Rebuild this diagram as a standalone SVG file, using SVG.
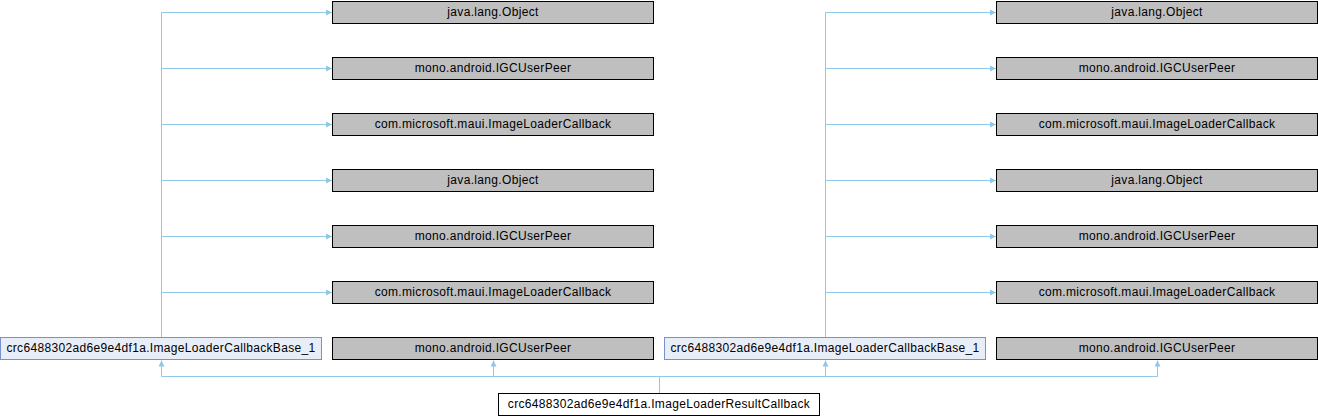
<svg xmlns="http://www.w3.org/2000/svg" width="1318" height="416" viewBox="0 0 1318 416">
<style>
.bg{fill:#ffffff}
.g rect{fill:#bfbfbf;stroke:#000000;stroke-width:1}
.b rect{fill:#e8eef8;stroke:#7b8fcb;stroke-width:1}
.w rect{fill:#ffffff;stroke:#000000;stroke-width:1}
text{font-family:"Liberation Sans",Arial,sans-serif;font-size:12px;letter-spacing:0.33px;fill:#000000;text-anchor:middle}
.e{fill:none;stroke:#8fc8e8;stroke-width:1}
</style>
<defs>
<marker id="ah" viewBox="0 0 8 8" refX="8" refY="4" markerWidth="7" markerHeight="6" markerUnits="userSpaceOnUse" orient="auto">
<path d="M0,0 L8,4 L0,8 z" fill="#8fc8e8"/>
</marker>
</defs>
<rect class="bg" x="0" y="0" width="1318" height="416"/>
<g id="connectors">
<path class="e" d="M161.5,337 V12.5"/>
<path class="e" d="M161.5,12.5 H332" marker-end="url(#ah)"/>
<path class="e" d="M161.5,68.5 H332" marker-end="url(#ah)"/>
<path class="e" d="M161.5,124.5 H332" marker-end="url(#ah)"/>
<path class="e" d="M161.5,180.5 H332" marker-end="url(#ah)"/>
<path class="e" d="M161.5,236.5 H332" marker-end="url(#ah)"/>
<path class="e" d="M161.5,292.5 H332" marker-end="url(#ah)"/>
<path class="e" d="M825.5,337 V12.5"/>
<path class="e" d="M825.5,12.5 H996" marker-end="url(#ah)"/>
<path class="e" d="M825.5,68.5 H996" marker-end="url(#ah)"/>
<path class="e" d="M825.5,124.5 H996" marker-end="url(#ah)"/>
<path class="e" d="M825.5,180.5 H996" marker-end="url(#ah)"/>
<path class="e" d="M825.5,236.5 H996" marker-end="url(#ah)"/>
<path class="e" d="M825.5,292.5 H996" marker-end="url(#ah)"/>
<path class="e" d="M659.5,393 V376.5"/>
<path class="e" d="M161.5,376.5 H1157.5"/>
<path class="e" d="M161.5,376.5 V360.5" marker-end="url(#ah)"/>
<path class="e" d="M493.5,376.5 V360.5" marker-end="url(#ah)"/>
<path class="e" d="M825.5,376.5 V360.5" marker-end="url(#ah)"/>
<path class="e" d="M1157.5,376.5 V360.5" marker-end="url(#ah)"/>
</g>
<g id="n_obj1" class="g"><rect x="332.5" y="1.5" width="321" height="22"/><text x="493" y="16">java.lang.Object</text></g>
<g id="n_peer1" class="g"><rect x="332.5" y="57.5" width="321" height="22"/><text x="493" y="72">mono.android.IGCUserPeer</text></g>
<g id="n_cb1" class="g"><rect x="332.5" y="113.5" width="321" height="22"/><text x="493" y="128">com.microsoft.maui.ImageLoaderCallback</text></g>
<g id="n_obj2" class="g"><rect x="332.5" y="169.5" width="321" height="22"/><text x="493" y="184">java.lang.Object</text></g>
<g id="n_peer2" class="g"><rect x="332.5" y="225.5" width="321" height="22"/><text x="493" y="240">mono.android.IGCUserPeer</text></g>
<g id="n_cb2" class="g"><rect x="332.5" y="281.5" width="321" height="22"/><text x="493" y="296">com.microsoft.maui.ImageLoaderCallback</text></g>
<g id="n_peer3" class="g"><rect x="332.5" y="337.5" width="321" height="22"/><text x="493" y="352">mono.android.IGCUserPeer</text></g>
<g id="n_base1" class="b"><rect x="0.5" y="337.5" width="321" height="22"/><text x="161" y="352">crc6488302ad6e9e4df1a.ImageLoaderCallbackBase_1</text></g>
<g id="n_obj3" class="g"><rect x="996.5" y="1.5" width="321" height="22"/><text x="1157" y="16">java.lang.Object</text></g>
<g id="n_peer4" class="g"><rect x="996.5" y="57.5" width="321" height="22"/><text x="1157" y="72">mono.android.IGCUserPeer</text></g>
<g id="n_cb3" class="g"><rect x="996.5" y="113.5" width="321" height="22"/><text x="1157" y="128">com.microsoft.maui.ImageLoaderCallback</text></g>
<g id="n_obj4" class="g"><rect x="996.5" y="169.5" width="321" height="22"/><text x="1157" y="184">java.lang.Object</text></g>
<g id="n_peer5" class="g"><rect x="996.5" y="225.5" width="321" height="22"/><text x="1157" y="240">mono.android.IGCUserPeer</text></g>
<g id="n_cb4" class="g"><rect x="996.5" y="281.5" width="321" height="22"/><text x="1157" y="296">com.microsoft.maui.ImageLoaderCallback</text></g>
<g id="n_peer6" class="g"><rect x="996.5" y="337.5" width="321" height="22"/><text x="1157" y="352">mono.android.IGCUserPeer</text></g>
<g id="n_base2" class="b"><rect x="664.5" y="337.5" width="321" height="22"/><text x="825" y="352">crc6488302ad6e9e4df1a.ImageLoaderCallbackBase_1</text></g>
<g id="n_result" class="w"><rect x="498.5" y="393.5" width="321" height="22"/><text x="659" y="408">crc6488302ad6e9e4df1a.ImageLoaderResultCallback</text></g>
</svg>
